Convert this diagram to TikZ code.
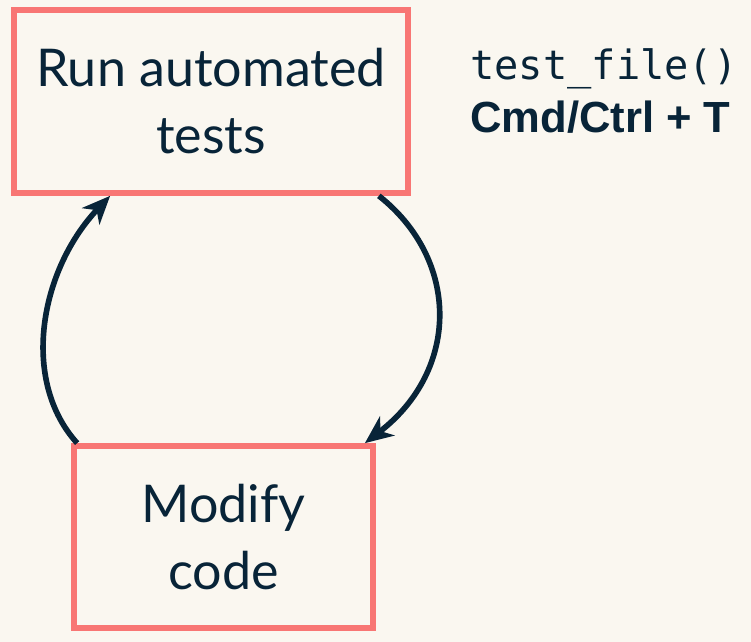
\documentclass[tikz,border=0pt]{standalone}
\usepackage{fontspec}
\setmainfont{Lato}
\setsansfont{Liberation Sans}
\setmonofont{DejaVu Sans Mono}
\usetikzlibrary{arrows.meta,calc}
\definecolor{TTpaper}{RGB}{250,247,240}
\definecolor{TTbox}{RGB}{248,118,116}
\definecolor{TTink}{RGB}{8,36,56}
\newcommand{\TTBoxFont}{\fontsize{37}{47.7}\selectfont}
\tikzset{
  stepbox/.style={draw=TTbox, line width=4, text=TTink, align=center,
    inner sep=0pt, font=\TTBoxFont},
  loop/.style={draw=TTink, line width=4,
    -{Stealth[length=20, width=17, inset=6]}},
  hint/.style={anchor=base west, text=TTink, inner sep=0pt}
}
\begin{document}
\begin{tikzpicture}[x=0.025cm,y=-0.025cm]
\fill[TTpaper] (0,0) rectangle (751,642);
\useasboundingbox (0,0) rectangle (751,642);

\node[stepbox, minimum width=9.85cm, minimum height=4.575cm] (run) at (211,101.5)
  {Run automated\\tests};
\node[stepbox, minimum width=7.475cm, minimum height=4.55cm] (modify) at (223.5,537)
  {Modify\\code};

\node[hint, font=\ttfamily\fontsize{28.7}{30}\selectfont] (fn) at (470,80) {test\textunderscore file()};
\node[hint, font=\sffamily\bfseries\fontsize{31}{33}\selectfont] (keys) at (470,133) {Cmd/Ctrl + T};

% the loop
\draw[loop] ($(run.south east)+(-32,0)$) .. controls (460,260) and (460,370) .. ($(modify.north east)+(-11,0)$);
\draw[loop] ($(modify.north west)+(6,0)$) .. controls (20,380) and (40,270) .. ($(run.south west)+(99,0)$);
\end{tikzpicture}
\end{document}
